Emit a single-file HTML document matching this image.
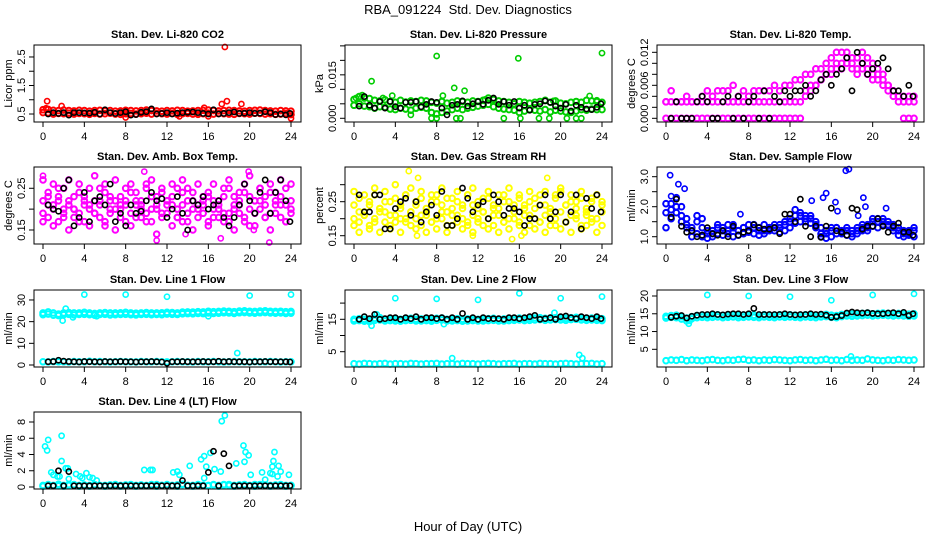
<!DOCTYPE html>
<html><head><meta charset="utf-8">
<style>
html,body{margin:0;padding:0;background:#fff;}
svg{display:block;font-family:"Liberation Sans",Arial,sans-serif;}
</style></head>
<body>
<svg id="chart" width="936" height="540" viewBox="0 0 936 540" xmlns="http://www.w3.org/2000/svg">
<rect x="0" y="0" width="936" height="540" fill="#fff"/>
<text x="468" y="14" text-anchor="middle" font-size="13" xml:space="preserve">RBA_091224  Std. Dev. Diagnostics</text>
<text x="468" y="531" text-anchor="middle" font-size="13">Hour of Day (UTC)</text>
</svg>
<script>
const hours49=[0,0.5,1,1.5,2,2.5,3,3.5,4,4.5,5,5.5,6,6.5,7,7.5,8,8.5,9,9.5,10,10.5,11,11.5,12,12.5,13,13.5,14,14.5,15,15.5,16,16.5,17,17.5,18,18.5,19,19.5,20,20.5,21,21.5,22,22.5,23,23.5,24];
const blackHours=[0.5,1,1.5,2,2.5,3,3.5,4,4.5,5,5.5,6,6.5,7,7.5,8,8.5,9,9.5,10,10.5,11,11.5,12,12.5,13,13.5,14,14.5,15,15.5,16,16.5,17,17.5,18,18.5,19,19.5,20,20.5,21,21.5,22,22.5,23,23.5,23.9];
const xTicks=[0,4,8,12,16,20,24];

// Panel 1: CO2
const co2BandA=[0.65,0.66,0.63,0.62,0.64,0.62,0.61,0.63,0.62,0.60,0.62,0.63,0.61,0.62,0.60,0.61,0.63,0.62,0.61,0.62,0.64,0.62,0.61,0.60,0.62,0.61,0.63,0.62,0.60,0.61,0.62,0.63,0.64,0.62,0.61,0.62,0.63,0.62,0.61,0.60,0.62,0.63,0.64,0.62,0.61,0.60,0.62,0.61,0.60];
const co2BandB=[0.55,0.54,0.50,0.52,0.51,0.53,0.50,0.52,0.51,0.49,0.52,0.50,0.51,0.53,0.50,0.49,0.51,0.52,0.50,0.51,0.53,0.50,0.52,0.51,0.50,0.52,0.49,0.51,0.52,0.50,0.49,0.51,0.53,0.50,0.52,0.51,0.50,0.49,0.52,0.51,0.50,0.53,0.52,0.50,0.51,0.49,0.50,0.52,0.48];
const co2OutX=[0.4,1.8,17.6,17.3,17.8,19.2,15.6,24,8,13.2,0.3,16];
const co2OutY=[0.95,0.78,2.85,0.85,0.95,0.85,0.72,0.35,0.38,0.42,0.7,0.42];
const co2Black=[0.5,0.55,0.52,0.55,0.46,0.55,0.55,0.54,0.53,0.56,0.5,0.65,0.55,0.52,0.55,0.58,0.46,0.48,0.56,0.58,0.68,0.5,0.52,0.55,0.5,0.53,0.55,0.56,0.57,0.55,0.52,0.5,0.65,0.5,0.52,0.55,0.57,0.52,0.53,0.55,0.52,0.53,0.58,0.55,0.48,0.5,0.47,0.52];

// Panel 2: Pressure
const presA=[0.0065,0.0075,0.007,0.0068,0.0062,0.006,0.0064,0.0058,0.0055,0.0062,0.0056,0.006,0.0058,0.0062,0.006,0.0055,0.0052,0.0058,0.0052,0.0055,0.006,0.0058,0.0055,0.006,0.0058,0.0062,0.007,0.0065,0.006,0.0058,0.0055,0.005,0.0058,0.0055,0.0052,0.0055,0.0058,0.0062,0.0055,0.006,0.0052,0.005,0.0055,0.0058,0.0055,0.0062,0.006,0.0058,0.0055];
const presB=[0.0045,0.005,0.0042,0.004,0.0035,0.004,0.0038,0.0032,0.003,0.0035,0.0032,0.0028,0.0035,0.0038,0.0035,0.002,0.0015,0.002,0.0025,0.003,0.0035,0.003,0.0035,0.0038,0.0042,0.0045,0.0048,0.004,0.0035,0.0032,0.003,0.0028,0.002,0.0025,0.003,0.0028,0.0025,0.003,0.0022,0.0028,0.0025,0.0022,0.002,0.0025,0.003,0.0028,0.0032,0.003,0.003];
const presOutX=[1.7,8,15.9,24,9.7,10.7,8.6,0.2,0.8,3.7,22.8,23.5,7.5,8,9.9,10.3,14.5,16.1,17.9,18.9,20.6,21.5,22,5.5,12.7,19.3,2.8];
const presOutY=[0.0128,0.0215,0.0207,0.0225,0.0105,0.0095,0.0078,0.007,0.008,0.0078,0.0077,0.0062,0,0,0,0,0,0,0,0,0,0,0,0.0012,0.0065,0.006,0.007];
const presBlack=[0.0042,0.0075,0.0045,0.0035,0.0058,0.0035,0.0058,0.004,0.0035,0.0055,0.0055,0.0058,0.004,0.0048,0.0058,0.0055,0.0035,0.0012,0.0045,0.0048,0.006,0.0042,0.005,0.0058,0.0048,0.0062,0.007,0.0048,0.0058,0.0045,0.0058,0.0035,0.0045,0.0028,0.0048,0.005,0.006,0.0055,0.0042,0.0035,0.0048,0.0025,0.0045,0.0038,0.0032,0.003,0.0038,0.005];

// Panel 3: Li-820 Temp
const ltA=[0,0,0,0,0,0,0,0,0,0,0,0,0,0,0,0,0,0,0,0,0,0,0,0,0,0,0,0.004,0.005,0.006,0.007,0.008,0.008,0.009,0.009,0.010,0.009,0.008,0.009,0.008,0.007,0.007,0.006,0.005,0.004,0.003,0,0,0];
const ltB=[0.003,0.003,0.003,0.003,0.003,0.003,0.003,0.003,0.003,0.003,0.003,0.003,0.003,0.003,0.003,0.003,0.003,0.003,0.003,0.003,0.003,0.003,0.003,0.003,0.003,0.003,0.003,0.005,0.006,0.006,0.007,0.008,0.009,0.010,0.010,0.011,0.010,0.009,0.010,0.009,0.008,0.008,0.007,0.006,0.005,0.004,0.003,0.003,0.003];
const ltC=[0.003,0.005,0.003,0.003,0.004,0.003,0.003,0.004,0.005,0.004,0.005,0.005,0.005,0.006,0.004,0.005,0.004,0.005,0.005,0.005,0.005,0.006,0.005,0.006,0.006,0.007,0.007,0.008,0.008,0.009,0.009,0.010,0.011,0.012,0.012,0.012,0.011,0.011,0.012,0.011,0.010,0.009,0.008,0.006,0.005,0.004,0.004,0.004,0.004];
const ltBlack=[0,0.003,0,0,0,0.003,0.004,0.003,0,0,0.003,0.004,0,0.004,0,0.003,0.004,0,0.005,0,0.004,0.003,0.005,0.004,0.005,0.005,0.006,0.004,0.005,0.007,0.008,0.006,0.008,0.009,0.011,0.005,0.012,0.010,0.008,0.009,0.010,0.011,0.009,0.005,0.005,0.004,0.006,0.004];

// Panel 4: Amb. Box Temp
const boxA=[0.22,0.24,0.21,0.23,0.25,0.22,0.20,0.24,0.23,0.21,0.22,0.25,0.24,0.20,0.22,0.23,0.21,0.24,0.22,0.20,0.25,0.23,0.21,0.24,0.22,0.23,0.20,0.24,0.25,0.22,0.21,0.23,0.24,0.22,0.20,0.23,0.25,0.21,0.22,0.24,0.23,0.22,0.25,0.21,0.24,0.22,0.23,0.21,0.22];
const boxB=[0.19,0.18,0.20,0.17,0.19,0.21,0.18,0.19,0.17,0.20,0.19,0.18,0.16,0.19,0.20,0.18,0.17,0.19,0.21,0.18,0.19,0.17,0.20,0.18,0.19,0.21,0.18,0.17,0.19,0.20,0.18,0.19,0.17,0.20,0.18,0.19,0.17,0.20,0.19,0.18,0.16,0.19,0.20,0.18,0.19,0.21,0.18,0.17,0.19];
const boxC=[0.27,0.23,0.26,0.25,0.20,0.27,0.23,0.26,0.21,0.25,0.28,0.22,0.26,0.23,0.27,0.21,0.25,0.26,0.24,0.22,0.26,0.27,0.23,0.25,0.21,0.26,0.25,0.27,0.22,0.24,0.26,0.21,0.23,0.26,0.22,0.25,0.27,0.23,0.24,0.26,0.28,0.22,0.25,0.23,0.26,0.24,0.27,0.25,0.26];
const boxD=[0.17,0.21,0.16,0.22,0.18,0.15,0.20,0.17,0.22,0.16,0.19,0.21,0.17,0.22,0.15,0.20,0.22,0.16,0.18,0.21,0.17,0.20,0.14,0.19,0.22,0.16,0.18,0.21,0.17,0.15,0.20,0.22,0.16,0.18,0.21,0.17,0.19,0.15,0.21,0.17,0.20,0.16,0.22,0.18,0.15,0.19,0.21,0.17,0.20];
const boxOutX=[0,9.8,11,19.9,21.9,17.2,13.8,20.4];
const boxOutY=[0.28,0.29,0.125,0.29,0.12,0.13,0.14,0.15];
const boxBlack=[0.21,0.2,0.195,0.25,0.27,0.16,0.18,0.24,0.17,0.22,0.23,0.21,0.26,0.17,0.19,0.16,0.21,0.19,0.195,0.22,0.24,0.22,0.225,0.18,0.2,0.23,0.19,0.15,0.22,0.21,0.23,0.2,0.21,0.22,0.18,0.16,0.18,0.21,0.26,0.22,0.19,0.24,0.27,0.19,0.24,0.27,0.22,0.17];

// Panel 5: Gas Stream RH
const rhA=[0.24,0.26,0.22,0.25,0.27,0.23,0.25,0.21,0.26,0.24,0.27,0.22,0.25,0.26,0.23,0.25,0.27,0.24,0.22,0.26,0.25,0.23,0.27,0.24,0.25,0.22,0.26,0.24,0.23,0.27,0.25,0.22,0.26,0.24,0.25,0.23,0.27,0.24,0.22,0.26,0.28,0.24,0.25,0.23,0.26,0.22,0.25,0.27,0.24];
const rhB=[0.20,0.19,0.21,0.18,0.20,0.22,0.19,0.18,0.21,0.20,0.19,0.22,0.20,0.18,0.21,0.19,0.20,0.22,0.18,0.21,0.19,0.20,0.18,0.21,0.19,0.22,0.20,0.18,0.21,0.19,0.20,0.22,0.19,0.21,0.18,0.20,0.19,0.21,0.20,0.18,0.22,0.19,0.21,0.20,0.18,0.21,0.19,0.20,0.22];
const rhC=[0.28,0.22,0.27,0.24,0.29,0.23,0.28,0.25,0.30,0.23,0.27,0.29,0.24,0.28,0.22,0.27,0.25,0.29,0.26,0.23,0.28,0.24,0.27,0.29,0.23,0.26,0.28,0.23,0.27,0.25,0.29,0.24,0.27,0.23,0.28,0.26,0.24,0.28,0.23,0.27,0.29,0.24,0.27,0.25,0.28,0.23,0.26,0.27,0.25];
const rhD=[0.18,0.16,0.21,0.17,0.19,0.16,0.22,0.17,0.19,0.16,0.20,0.18,0.17,0.21,0.16,0.19,0.17,0.20,0.16,0.18,0.21,0.17,0.19,0.16,0.20,0.18,0.17,0.21,0.16,0.19,0.17,0.20,0.18,0.16,0.21,0.17,0.19,0.16,0.18,0.20,0.17,0.19,0.16,0.21,0.17,0.18,0.20,0.16,0.18];
const rhOutX=[5.3,6.2,18.7,15.3,6.1,11.5,16.2];
const rhOutY=[0.34,0.32,0.32,0.14,0.15,0.15,0.15];
const rhBlack=[0.27,0.22,0.22,0.27,0.27,0.17,0.17,0.23,0.25,0.26,0.21,0.25,0.19,0.22,0.24,0.21,0.28,0.18,0.18,0.2,0.29,0.26,0.22,0.24,0.25,0.2,0.27,0.25,0.21,0.23,0.23,0.22,0.18,0.2,0.2,0.24,0.27,0.2,0.22,0.27,0.19,0.22,0.27,0.17,0.26,0.23,0.27,0.22];

// Panel 6: Sample Flow
const sfA=[1.8,2.1,2.3,2.0,1.6,1.2,1.5,1.6,1.2,1.1,1.3,1.2,1.4,1.3,1.2,1.3,1.4,1.3,1.2,1.4,1.3,1.4,1.3,1.4,1.5,1.7,1.8,1.7,1.6,1.5,1.3,1.2,1.3,1.3,1.2,1.3,1.2,1.3,1.4,1.4,1.5,1.5,1.5,1.5,1.4,1.2,1.2,1.1,1.2];
const sfB=[1.3,1.6,1.8,1.5,1.3,1.0,1.1,1.0,0.95,1.0,1.1,1.05,1.1,1.0,1.05,1.1,1.15,1.1,1.05,1.1,1.2,1.2,1.15,1.2,1.3,1.45,1.5,1.5,1.45,1.3,1.0,0.95,1.0,1.1,1.15,1.05,1.0,1.1,1.2,1.3,1.35,1.3,1.4,1.35,1.2,1.05,1.0,1.05,1.0];
const sfC=[2.1,1.9,2.0,1.7,1.4,1.3,1.7,1.3,1.1,1.2,1.4,1.3,1.2,1.4,1.2,1.3,1.2,1.4,1.3,1.2,1.3,1.3,1.4,1.5,1.6,1.9,1.7,1.6,1.7,1.4,1.1,1.1,1.2,1.3,1.1,1.2,1.1,1.2,1.3,1.2,1.6,1.6,1.6,1.4,1.3,1.3,1.1,1.2,1.3];
const sfOutX=[0.4,1.2,1.8,15.2,15.5,16.4,16.6,17.4,17.7,19.1,19.3,14.1,21.3,7.2,0.5,18.6];
const sfOutY=[3.05,2.75,2.6,2.3,2.45,2.15,1.85,3.2,3.25,2.3,2.0,2.2,1.95,1.75,2.35,1.7];
const sfBlack=[1.65,2.25,1.35,1.15,1.2,1.0,1.05,1.3,1.1,1.05,1.2,1.0,1.35,1.05,1.15,1.2,1.4,1.3,1.25,1.25,1.3,1.1,1.75,1.75,1.5,2.25,1.35,1.0,1.35,0.98,1.35,1.95,1.2,1.15,1.05,1.95,1.9,1.25,1.35,1.35,1.6,1.35,1.15,1.35,1.45,1.15,1.15,1.05];

// Panel 7: Line 1 Flow
const l1A=[24,24.5,24,23.5,24,24.2,24,24,24.3,24,23.8,24,24.2,24,24,24.1,24.3,24,23.9,24,24.2,24,24,24.1,24.3,24.2,24,24.4,24.5,24.4,24.6,24.5,24.8,24.6,24.7,24.9,24.8,24.6,24.9,25,24.8,24.7,24.9,25,24.8,24.7,24.8,24.6,24.7];
const l1B=[23.2,23.5,23,22.8,23.2,23.4,23.1,23.3,23.4,23.2,23,23.3,23.4,23.1,23.2,23.3,23.4,23.2,23.1,23.3,23.4,23.2,23.3,23.2,23.5,23.4,23.3,23.6,23.7,23.6,23.8,23.7,24,23.8,23.9,24.1,24,23.8,24.1,24.2,24,23.9,24.1,24.2,24,23.9,24,23.8,23.9];
const l1Low=[1.5,1.4,1.6,1.5,1.5,1.4,1.6,1.5,1.5,1.7,1.5,1.6,1.5,1.4,1.5,1.6,1.5,1.5,1.4,1.6,1.5,1.5,1.6,1.5,1.4,1.5,1.6,1.5,1.5,1.4,1.6,1.5,1.5,1.6,1.5,1.4,1.5,1.6,1.5,1.5,1.4,1.6,1.5,1.5,1.6,1.5,1.4,1.5,1.5];
const l1OutX=[4,8,12,20,24,1.9,2.2,18.8,16,5.2,2.9];
const l1OutY=[32.5,32.5,31.5,32,32.5,20.5,26,5.5,22.5,22.5,22];
const l1Black=[1.5,1.6,2.2,1.8,1.6,1.5,1.4,1.6,1.5,1.5,1.4,1.6,1.5,1.5,1.6,1.5,1.5,1.4,1.5,1.5,1.6,1.5,1.4,0.8,1.5,1.5,1.6,1.5,1.5,1.5,1.6,1.5,1.5,1.7,1.5,1.6,1.5,1.5,1.5,1.4,1.5,1.5,1.6,1.5,1.5,1.5,1.5,1.4];

// Panel 8: Line 2 Flow
const l2A=[15,15.2,15,14.8,15.3,15.5,15,15.2,15.1,15,15.2,15.3,15,15.1,15.2,15,15.3,15.4,15,15.1,15.2,15,15.1,15.2,15,15.1,15.2,15.3,15,15.1,15.2,15.3,15.4,15.2,15.3,15.4,15.5,15.3,15.4,15.5,15.4,15.3,15.5,15.6,15.4,15.3,15.4,15.3,15.2];
const l2B=[14.5,14.6,14.4,14.3,14.7,14.8,14.5,14.6,14.5,14.4,14.6,14.7,14.5,14.5,14.6,14.4,14.7,14.8,14.5,14.5,14.6,14.4,14.5,14.6,14.5,14.5,14.6,14.7,14.5,14.5,14.6,14.7,14.8,14.6,14.7,14.8,14.9,14.7,14.8,14.9,14.8,14.7,14.9,15,14.8,14.7,14.8,14.7,14.6];
const l2Low=[1.3,1.2,1.4,1.3,1.2,1.3,1.4,1.2,1.3,1.3,1.2,1.4,1.3,1.2,1.3,1.3,1.4,1.2,1.3,1.3,1.2,1.4,1.3,1.3,1.2,1.3,1.4,1.3,1.2,1.3,1.3,1.4,1.2,1.3,1.3,1.2,1.4,1.3,1.3,1.2,1.3,1.4,1.3,1.2,1.3,1.3,1.4,1.2,1.3];
const l2OutX=[4,8,12,16,20,24,1.7,8.7,21.8,9.5,19.4,2.2,22.1];
const l2OutY=[21.5,21.3,21,23,21.5,22,13,13.5,4,3,17,16.5,3];
const l2Black=[15,15.8,15.2,16.5,15,15.2,15.5,15.5,15,15.5,15.2,15.8,15,15.5,15.5,15.2,15.5,15,15.5,15,16.8,15,15.5,15,15.5,15.2,15.2,15.2,15,15.5,15.5,15.2,15.5,15.8,16.2,15,15.2,15.5,15,15.8,16,15.5,15.2,15.8,15.5,15.2,15.8,15.2];

// Panel 9: Line 3 Flow
const l3A=[14.3,14.5,14.6,14.2,13.8,14.2,14.5,14.6,14.5,14.6,14.7,14.5,14.6,14.7,14.5,14.6,14.7,14.6,14.5,14.7,14.6,14.5,14.7,14.6,14.7,14.6,14.5,14.7,14.6,14.5,14.7,14.8,14.6,14.5,14.8,15,14.9,15,15.1,15.2,15,15.1,15.2,15.1,15,15.1,15,14.9,15];
const l3B=[13.8,14,13.9,13.5,13,13.6,13.9,14,13.9,14,14.1,13.9,14,14.1,13.9,14,14.1,14,13.9,14.1,14,13.9,14.1,14,14.1,14,13.9,14.1,14,13.9,14.1,14.2,14,13.9,14.2,14.4,14.3,14.4,14.5,14.6,14.4,14.5,14.6,14.5,14.4,14.5,14.4,14.3,14.4];
const l3Low=[1.8,2.0,1.9,2.1,1.8,2.0,1.9,1.8,2.0,2.1,1.9,1.8,2.0,1.9,2.1,2.2,1.9,2.0,1.8,2.0,1.9,2.1,2.0,1.9,1.8,2.0,2.1,1.9,2.0,1.8,2.0,2.2,1.9,2.0,1.8,2.1,1.9,2.0,1.9,2.3,2.0,1.9,1.8,2.0,1.9,2.1,2.0,1.9,2.0];
const l3OutX=[4,8,12,16,20,24,2.2,2.3,17.9];
const l3OutY=[20.3,20,19.8,18.8,20.3,20.6,12.2,13,3];
const l3Black=[14,14.3,14.5,13.8,14.3,14.6,14.8,14.8,15,14.8,14.7,14.9,15,15,14.8,15,16.5,14.8,14.8,14.8,14.8,14.8,15,14.8,14.7,14.8,14.8,15,14.8,14.9,14.6,14,14.2,14.5,15.2,15.5,15.3,15.2,15.3,15.1,15,15,15.2,15.3,15,15.4,14.5,15];

// Panel 10: Line 4 (LT) Flow
const l4Base=[0.2,0.25,0.2,0.15,0.2,0.3,0.2,0.2,0.15,0.2,0.25,0.2,0.2,0.15,0.2,0.2,0.25,0.2,0.2,0.15,0.2,0.2,0.3,0.2,0.2,0.2,0.25,0.3,0.2,0.2,0.15,0.2,0.2,0.25,0.2,0.3,0.2,0.2,0.25,0.2,0.2,0.3,0.2,0.25,0.2,0.2,0.15,0.2,0.2];
const l4Base2=[0.1,0.3,0.15,0.35,0.1,0.2,0.3,0.1,0.25,0.1,0.3,0.15,0.1,0.25,0.3,0.1,0.2,0.3,0.1,0.25,0.15,0.3,0.1,0.2,0.3,0.15,0.1,0.35,0.2,0.1,0.3,0.2,0.15,0.3,0.1,0.25,0.3,0.1,0.2,0.3,0.15,0.1,0.3,0.2,0.1,0.25,0.3,0.1,0.2];
const l4OutX=[0.2,0.4,0.5,1.8,1.8,2.2,2.4,0.8,1.0,1.4,1.6,2.5,3.2,3.6,3.8,4.2,4.5,4.8,5.2,9.8,10.4,10.6,12.6,13,13.2,14.2,15.3,15.6,15.8,15.6,16.2,16.6,17.2,17.3,17.6,18.7,19.4,19.6,19.5,19.9,20.1,21.2,21.5,22,22.2,22.4,22.3,22.8,23,22.7,23.8,22.2];
const l4OutY=[5,4.5,5.8,6.3,3.2,2.3,2.3,1.8,1.5,1.3,1.3,1.0,1.6,1.3,1.1,1.7,1.2,1.1,0.8,2.1,2.1,2.1,1.8,1.9,1.5,2.6,3.4,3.8,2.5,1.1,4.2,2.2,1.9,8.1,8.8,2.9,5.1,4.3,3.1,3.9,1.5,1.8,0.9,1.7,2.5,4.3,3.2,2.6,1.9,1.3,1.5,1.6];
const l4Black=[0.15,0.15,2.0,0.15,1.9,0.15,0.15,0.15,0.15,0.15,0.15,0.15,0.15,0.15,0.15,0.15,0.15,0.15,0.15,0.15,0.15,0.15,0.15,0.15,0.15,0.15,0.8,0.15,0.15,0.15,0.15,1.8,4.4,0.15,4.1,2.6,0.15,0.15,0.15,0.15,0.15,0.15,0.15,0.15,0.15,0.15,0.15,0.15];

const NS="http://www.w3.org/2000/svg";
const svg=document.getElementById('chart');
const colLeft=[34,345,657], rowTop=[45,167,290,412], PW=267, PH=77;

const panels=[
 {key:'co2',title:'Stan. Dev. Li-820 CO2',ylab:'Licor ppm',col:0,row:0,ymin:0.22,ymax:2.92,ticks:[0.5,1,1.5,2,2.5],labels:['0.5','','1.5','','2.5'],color:'#ff0000',layers:[co2BandA,co2BandB],ox:co2OutX,oy:co2OutY,black:co2Black},
 {key:'pressure',title:'Stan. Dev. Li-820 Pressure',ylab:'kPa',col:1,row:0,ymin:-0.00128,ymax:0.0253,ticks:[0,0.005,0.01,0.015,0.02,0.025],labels:['0.000','','','0.015','',''],color:'#00cd00',layers:[presA,presB],ox:presOutX,oy:presOutY,black:presBlack},
 {key:'li-temp',title:'Stan. Dev. Li-820 Temp.',ylab:'degrees C',col:2,row:0,ymin:-0.00067,ymax:0.01333,ticks:[0,0.002,0.004,0.006,0.008,0.01,0.012],labels:['0.000','','','0.006','','','0.012'],color:'#ff00ff',layers:[ltA,ltB,ltC],ox:[],oy:[],black:ltBlack},
 {key:'box-temp',title:'Stan. Dev. Amb. Box Temp.',ylab:'degrees C',col:0,row:1,ymin:0.1164,ymax:0.301,ticks:[0.15,0.2,0.25],labels:['0.15','','0.25'],color:'#ff00ff',layers:[boxA,boxB,boxC,boxD],ox:boxOutX,oy:boxOutY,black:boxBlack},
 {key:'rh',title:'Stan. Dev. Gas Stream RH',ylab:'percent',col:1,row:1,ymin:0.1256,ymax:0.352,ticks:[0.15,0.2,0.25,0.3],labels:['0.15','','0.25',''],color:'#ffff00',layers:[rhA,rhB,rhC,rhD],ox:rhOutX,oy:rhOutY,black:rhBlack},
 {key:'sample-flow',title:'Stan. Dev. Sample Flow',ylab:'ml/min',col:2,row:1,ymin:0.757,ymax:3.323,ticks:[1,1.5,2,2.5,3],labels:['1.0','','2.0','','3.0'],color:'#0000ff',layers:[sfA,sfB,sfC],ox:sfOutX,oy:sfOutY,black:sfBlack},
 {key:'line1',title:'Stan. Dev. Line 1 Flow',ylab:'ml/min',col:0,row:2,ymin:-0.92,ymax:34.6,ticks:[0,10,20,30],labels:['0','10','20','30'],color:'#00ffff',layers:[l1A,l1B,l1Low],ox:l1OutX,oy:l1OutY,black:l1Black},
 {key:'line2',title:'Stan. Dev. Line 2 Flow',ylab:'ml/min',col:1,row:2,ymin:0.28,ymax:24.04,ticks:[5,10,15,20],labels:['5','','15',''],color:'#00ffff',layers:[l2A,l2B,l2Low],ox:l2OutX,oy:l2OutY,black:l2Black},
 {key:'line3',title:'Stan. Dev. Line 3 Flow',ylab:'ml/min',col:2,row:2,ymin:0.02,ymax:21.69,ticks:[5,10,15,20],labels:['5','10','15','20'],color:'#00ffff',layers:[l3A,l3B,l3Low],ox:l3OutX,oy:l3OutY,black:l3Black},
 {key:'line4',title:'Stan. Dev. Line 4 (LT) Flow',ylab:'ml/min',col:0,row:3,ymin:-0.246,ymax:9.23,ticks:[0,2,4,6,8],labels:['0','2','4','6','8'],color:'#00ffff',layers:[l4Base,l4Base2],ox:l4OutX,oy:l4OutY,black:l4Black}
];

function mk(tag,attrs,parent){const e=document.createElementNS(NS,tag);for(const k in attrs)e.setAttribute(k,attrs[k]);parent.appendChild(e);return e;}

panels.forEach(p=>{
  const L=colLeft[p.col], T=rowTop[p.row];
  const xs=h=>L+9+h*248/24;
  const ys=v=>T+(p.ymax-v)/(p.ymax-p.ymin)*PH;
  const g=mk('g',{},svg);
  
  
  const t=mk('text',{x:L+PW/2,y:T-7,'text-anchor':'middle','font-size':'11','font-weight':'bold'},g);
  t.textContent=p.title;
  
  
  const yl=mk('text',{transform:`translate(${L-22},${T+PH/2}) rotate(-90)`,'text-anchor':'middle','font-size':'11'},g);
  yl.textContent=p.ylab;
  
  
  const pts=mk('g',{fill:'none'},g);
  
  
  p.layers.forEach(arr=>{
    for(let i=0;i<Math.min(arr.length,hours49.length);i++){
      const c=mk('circle',{cx:xs(hours49[i]),cy:ys(arr[i]),r:2.8,stroke:p.color,'stroke-width':'2'},pts);
      
      
    }
  });
  for(let i=0;i<Math.min(p.ox.length,p.oy.length);i++){
    const c=mk('circle',{cx:xs(p.ox[i]),cy:ys(p.oy[i]),r:2.6,stroke:p.color,'stroke-width':'1.6'},pts);
    
    
  }
  for(let i=0;i<Math.min(p.black.length,blackHours.length);i++){
    const c=mk('circle',{cx:xs(blackHours[i]),cy:ys(p.black[i]),r:2.6,stroke:'#000','stroke-width':'1.6'},pts);
    
    
  }
  const box=mk('rect',{x:L,y:T,width:PW,height:PH,fill:'none',stroke:'#000','stroke-width':'1'},g);
  
  
  xTicks.forEach(h=>{
    const tl=mk('line',{x1:xs(h),x2:xs(h),y1:T+PH,y2:T+PH+5,stroke:'#000'},g);
    
    
    const lb=mk('text',{x:xs(h),y:T+PH+18,'text-anchor':'middle','font-size':'11'},g);
    lb.textContent=String(h);
    
    
  });
  p.ticks.forEach((v,i)=>{
    const tl=mk('line',{x1:L-5,x2:L,y1:ys(v),y2:ys(v),stroke:'#000'},g);
    
    
    if(p.labels[i]){
      const lb=mk('text',{transform:`translate(${L-9},${ys(v)}) rotate(-90)`,'text-anchor':'middle','font-size':'11'},g);
      lb.textContent=p.labels[i];
      
      
    }
  });
});
</script>
</body></html>
